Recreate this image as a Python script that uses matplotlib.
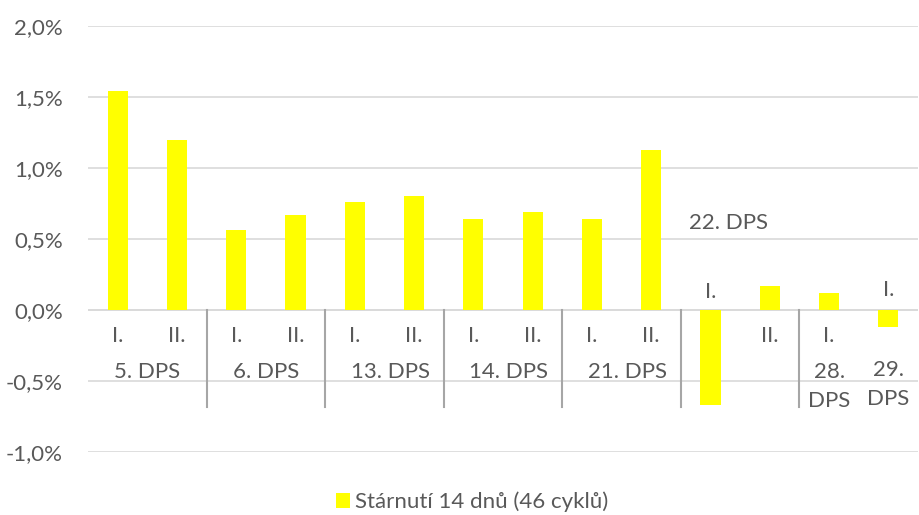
import matplotlib
matplotlib.use("Agg")
import matplotlib.pyplot as plt
from matplotlib.ticker import FuncFormatter

# Data (percent)
groups = ["5. DPS", "6. DPS", "13. DPS", "14. DPS", "21. DPS", "22. DPS", "28.\nDPS", "29.\nDPS"]
sub_labels = ["I.", "II.", "I.", "II.", "I.", "II.", "I.", "II.", "I.", "II.", "I.", "II.", "I.", "I."]
values = [1.54, 1.20, 0.56, 0.67, 0.76, 0.80, 0.64, 0.69, 0.64, 1.13, -0.67, 0.17, 0.12, -0.12]
series_name = "Stárnutí 14 dnů (46 cyklů)"
yticks = [-1.0, -0.5, 0.0, 0.5, 1.0, 1.5, 2.0]

TXT = "#595959"
FONT = "Lato"
FS = 16

W, H = 919, 515
fig = plt.figure(figsize=(W / 100, H / 100), dpi=100)
ax = fig.add_axes([88 / W, (H - 452) / H, (918 - 88) / W, (452 - 26) / H])

x = list(range(len(values)))
ax.bar(x, values, width=0.34, color="#FFFF00", zorder=3, label=series_name)
ax.set_xlim(-0.5, len(values) - 0.5)
ax.set_ylim(-1.0, 2.0)
ax.set_yticks(yticks)
ax.yaxis.set_major_formatter(FuncFormatter(lambda v, p: f"{v:.1f}".replace(".", ",") + "%"))
ax.tick_params(axis="y", length=0, pad=18, labelsize=FS, labelcolor=TXT)
for lab in ax.get_yticklabels():
    lab.set_fontfamily(FONT)
ax.set_xticks([])
for s in ax.spines.values():
    s.set_visible(False)
ax.grid(axis="y", color="#D9D9D9", linewidth=1.2, zorder=0)
ax.axhline(0, color="#D9D9D9", linewidth=1.2, zorder=1)

# sub labels
for i, lab in enumerate(sub_labels):
    yv = -0.18
    if i in (10, 13):
        yv = 0.127 if i == 10 else 0.141
    ax.text(i, yv, lab, ha="center", va="center", fontsize=FS, color=TXT, family=FONT, clip_on=False)

# group labels
group_pos = [(0.5, -0.44), (2.5, -0.44), (4.6, -0.44), (6.6, -0.44), (8.6, -0.44),
             (10.3, 0.613), (12, -0.54), (13, -0.525)]
for (gx, gy), g in zip(group_pos, groups):
    ax.text(gx, gy, g, ha="center", va="center", fontsize=FS, color=TXT, family=FONT,
            linespacing=1.6, clip_on=False)

# separators
for sx in [1.5, 3.5, 5.5, 7.5, 9.5, 11.5]:
    ax.plot([sx, sx], [0, -0.683], color="#A6A6A6", linewidth=1.5, clip_on=False, zorder=2)

leg = fig.legend(loc="center", bbox_to_anchor=(0.514, (H - 502) / H), frameon=False,
                 prop={"family": FONT, "size": FS}, handlelength=0.6, handleheight=0.6,
                 handletextpad=0.25, borderpad=0, borderaxespad=0)
for t in leg.get_texts():
    t.set_color(TXT)

fig.savefig("out.png", dpi=100)
